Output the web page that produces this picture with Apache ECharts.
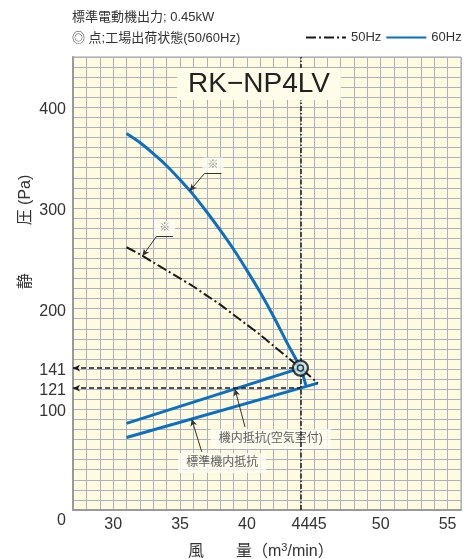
<!DOCTYPE html>
<html><head><meta charset="utf-8">
<script src="https://cdn.jsdelivr.net/npm/echarts@6/dist/echarts.min.js"></script>
<style>html,body{margin:0;padding:0;background:#fff}#c{width:465px;height:559px}</style>
</head><body><div id="c"></div>
<script>
// ---- data ----
const fan60 = [[31,374],[32,365],[33,354],[34,342],[35,328],[36,313],[37,296],[38,278],[39,259],[40,238],[41,216],[42,192],[43,166],[44,141],[44.4,124]];
const fan50 = [[31,261],[32,254],[33,246],[34,238],[35,230],[36,222],[37,213],[38,204],[39,194],[40,184],[41,174],[42,163],[43,152],[44,141],[45.3,126]];
const sysChamber = [[31,86],[44,141]];
const sysStandard = [[31,72],[45.3,126]];
const opPoint = [44,141];
const opFlow = 44;
const refLevels = [141,121];
const yTickLabels = [0,100,121,141,200,300,400];
const xTickLabels = [30,35,40,44,45,50,55];
const xRange = [27,56];
const yRange = [0,450];
const noteTexts = ['機内抵抗(空気室付)','標準機内抵抗','※','※'];
const notePos = [[41.78,70.5],[38.15,46.7],[37.46,342.7],[33.85,279.8]];
const leaderArrowSegs = [[[39.86,82.4],[39.1,120.3]],[[36.62,57.9],[35.87,90.4]],[[36.84,334.5],[35.72,316.9]],[[33.23,271.5],[32.19,252.3]]];
const leaderPlainSegs = [[[38.09,334.5],[36.84,334.5]],[[34.47,271.5],[33.23,271.5]]];

const FONT = "'Liberation Sans','Noto Sans CJK JP',sans-serif";
const chart = echarts.init(document.getElementById('c'), null, {renderer:'canvas'});

const option = {
  animation:false,
  backgroundColor:'#ffffff',
  textStyle:{fontFamily:FONT},
  title:{
    text:'RK\u2212NP4LV', left:177, top:68,
    backgroundColor:'#fffde9', padding:[2,11,2,11],
    textStyle:{fontFamily:FONT, fontSize:28, fontWeight:'normal', color:'#222', lineHeight:28}
  },
  legend:{
    orient:'horizontal', left:305, top:31, padding:0, itemWidth:40, itemHeight:14, itemGap:4,
    data:['50Hz','60Hz'],
    itemStyle:{opacity:0},
    textStyle:{fontFamily:FONT, fontSize:13, color:'#333'}
  },
  grid:{left:73, right:4, top:57, bottom:49, show:true, backgroundColor:'#fffbe1', borderColor:'#a0a0a0', borderWidth:1},
  xAxis:{
    type:'value', min:xRange[0], max:xRange[1], interval:1,
    axisLine:{show:true, lineStyle:{color:'#9a9a9a', width:2}},
    axisTick:{show:false},
    splitLine:{show:true, lineStyle:{color:'#aeb0c2', width:1}},
    axisLabel:{
      customValues:xTickLabels, margin:7,
      formatter:v => v===45 ? '{r|45}' : '{n|'+v+'}',
      rich:{n:{fontFamily:FONT,fontSize:16,color:'#333'}, r:{fontFamily:FONT,fontSize:16,color:'#333',padding:[0,0,0,8]}}
    }
  },
  yAxis:{
    type:'value', min:yRange[0], max:yRange[1], interval:10,
    axisLine:{show:true, lineStyle:{color:'#9a9a9a', width:2}},
    axisTick:{show:false},
    splitLine:{show:true, lineStyle:{color:'#aeb0c2', width:1}},
    axisLabel:{
      customValues:yTickLabels, margin:7,
      formatter:v => v===0 ? '{z|0}' : '{n|'+v+'}',
      rich:{n:{fontFamily:FONT,fontSize:16,color:'#333',padding:[5,0,0,0]}, z:{fontFamily:FONT,fontSize:16,color:'#333',padding:[22,0,0,0]}}
    }
  },
  graphic:[
    {type:'text', left:72, top:11, style:{text:'標準電動機出力; 0.45kW', font:"13px "+FONT, fill:'#333'}},
    {type:'text', left:72, top:32, style:{text:'◎ 点;工場出荷状態(50/60Hz)', font:"13px "+FONT, fill:'#333'}},
    {type:'text', x:26, y:232, rotation:Math.PI/2, style:{text:'静　　　圧 (Pa)', font:"16px "+FONT, fill:'#333', align:'center', verticalAlign:'middle'}},
    {type:'text', left:188, top:542, style:{
      text:'{a|風　　量（m}{s|3}{a|/min）}',
      rich:{a:{fontFamily:FONT,fontSize:16,fill:'#333',color:'#333'}, s:{fontFamily:FONT,fontSize:11,fill:'#333',color:'#333',verticalAlign:'top',padding:[0,0,8,0]}}
    }}
  ],
  series:[
    {name:'機内抵抗(空気室付)', type:'line', data:sysChamber, symbol:'none', z:3,
     lineStyle:{color:'#0b70c1', width:3}, silent:true},
    {name:'標準機内抵抗', type:'line', data:sysStandard, symbol:'none', z:3,
     lineStyle:{color:'#0b70c1', width:3}, silent:true},
    {name:'50Hz', type:'line', data:fan50, symbol:'none', z:4, smooth:0.3,
     lineStyle:{color:'#1a1a1a', width:2, type:[10,3,2,3]}, itemStyle:{color:'#1a1a1a'}, silent:true},
    {name:'60Hz', type:'line', data:fan60, symbol:'none', z:4, smooth:0.3,
     lineStyle:{color:'#0b70c1', width:3}, itemStyle:{color:'#0b70c1'}, silent:true},
    {name:'notes', type:'scatter', z:2, symbolSize:0, silent:true,
     data:noteTexts.map((t,i)=>({name:t, value:notePos[i],
       label:{show:true, position:'inside', formatter:'{b}', fontFamily:FONT,
         fontSize: t==='※' ? 11 : 12, color: t==='※' ? '#666' : '#333',
         backgroundColor:'#fffef4', padding: t==='※' ? [2,5] : [4,8]}}))},
    {name:'guideV', type:'line', data:[], z:6, silent:true,
     markLine:{silent:true, symbol:['none','none'], label:{show:false},
       lineStyle:{color:'#1a1a1a', width:1.5, type:[5,2,1.5,2]},
       data:[{xAxis:opFlow}]}},
    {name:'guideH', type:'line', data:[], z:6, silent:true,
     markLine:{silent:true, symbol:['arrow','none'], symbolSize:[5,7], label:{show:false},
       lineStyle:{color:'#1a1a1a', width:1.5, type:[5,3]},
       data:refLevels.map(v=>[{coord:[xRange[0],v]},{coord:[opFlow,v]}])}},
    {name:'leaderA', type:'line', data:[], z:5, silent:true,
     markLine:{silent:true, symbol:['none','arrow'], symbolSize:[5,7], label:{show:false},
       lineStyle:{color:'#333', width:1, type:'solid'},
       data:leaderArrowSegs.map(s=>[{coord:s[0]},{coord:s[1]}])}},
    {name:'leaderP', type:'line', data:[], z:5, silent:true,
     markLine:{silent:true, symbol:['none','none'], label:{show:false},
       lineStyle:{color:'#333', width:1, type:'solid'},
       data:leaderPlainSegs.map(s=>[{coord:s[0]},{coord:s[1]}])}},
    {name:'op', type:'scatter', z:10, silent:true,
     data:[
       {value:opPoint, symbolSize:15, itemStyle:{color:'#bfe3f0', borderColor:'#111', borderWidth:2.2}},
       {value:opPoint, symbolSize:6, itemStyle:{color:'#bfe3f0', borderColor:'#111', borderWidth:1.5}}
     ]}
  ]
};
chart.setOption(option);
</script>
</body></html>
